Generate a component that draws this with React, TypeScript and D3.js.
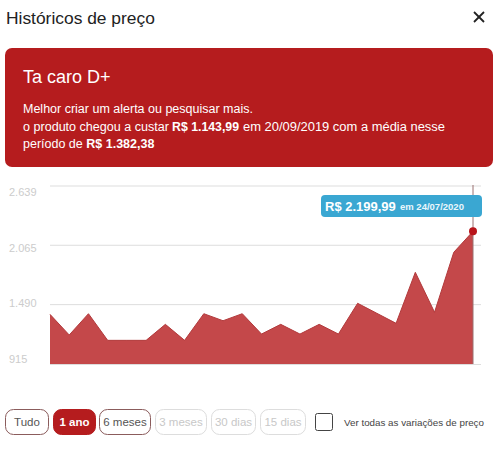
import React from "react";
import * as d3 from "d3";

const prices = [1396, 1196, 1402, 1143.99, 1143.99, 1143.99, 1299, 1143.99, 1402, 1334, 1402, 1205, 1299, 1205, 1299, 1205, 1503, 1406, 1309, 1803, 1416, 1997, 2199.99];
const yTicks = [915, 1490, 2065, 2639];
const yTickLabels = ["915", "1.490", "2.065", "2.639"];
const buttons = ["Tudo", "1 ano", "6 meses", "3 meses", "30 dias", "15 dias"];
const buttonState = ["on", "active", "on", "off", "off", "off"];
const buttonX = [5, 53, 99, 155, 211, 260];
const buttonW = [43, 42, 51, 51, 44, 45];

const FONT = "'Liberation Sans', Arial, sans-serif";

export default function App() {
  const W = 500, H = 453;
  const x = d3.scaleLinear().domain([0, prices.length - 1]).range([50, 473]);
  const y = d3.scaleLinear().domain([915, 2639]).range([364, 186]);
  const yLab = d3.scaleLinear().domain([915, 2639]).range([363, 196]);
  const area = d3.area<number>().x((_, i) => x(i)).y0(y(915)).y1(d => y(d)).curve(d3.curveLinear);
  const line = d3.line<number>().x((_, i) => x(i)).y(d => y(d));
  const last = prices.length - 1;
  return (
    <svg width={W} height={H} style={{ position: "absolute", left: 0, top: 0, fontFamily: FONT }}>
      <rect width={W} height={H} fill="#fff" />
      <text x={6} y={24} fontSize={17.4} fill="#222">Históricos de preço</text>
      <g stroke="#222" strokeWidth={1.8}>
        <line x1={474} y1={12} x2={484} y2={22} />
        <line x1={484} y1={12} x2={474} y2={22} />
      </g>
      <rect x={5} y={48} width={488} height={119} rx={7} fill="#b51c1e" />
      <text x={23} y={83} fontSize={18} fill="#fff">Ta caro D+</text>
      <text x={23} y={113} fontSize={12.5} fill="#fff">Melhor criar um alerta ou pesquisar mais.</text>
      <text x={23} y={131} fontSize={12.5} fill="#fff" textLength={146} lengthAdjust="spacingAndGlyphs">o produto chegou a custar</text>
      <text x={172} y={131} fontSize={12.5} fontWeight="bold" fill="#fff" textLength={67} lengthAdjust="spacingAndGlyphs">R$ 1.143,99</text>
      <text x={243} y={131} fontSize={12.5} fill="#fff" textLength={202} lengthAdjust="spacingAndGlyphs">em 20/09/2019 com a média nesse</text>
      <text x={23} y={148} fontSize={12.5} fill="#fff">período de <tspan fontWeight="bold">R$ 1.382,38</tspan></text>

      {yTicks.map((t, i) => (
        <g key={t}>
          {i > 0 && <line x1={50} x2={481} y1={y(t)} y2={y(t)} stroke="#ddd" strokeWidth={1} />}
          <text x={9} y={yLab(t)} fontSize={11} fill="#cccccc">{yTickLabels[i]}</text>
        </g>
      ))}
      <line x1={50} x2={481} y1={y(915) + 0.5} y2={y(915) + 0.5} stroke="#ddd" />
      <path d={area(prices) || ""} fill="#c4484a" />
      <path d={line(prices) || ""} fill="none" stroke="#b23a3c" strokeWidth={1} />
      <line x1={x(last)} x2={x(last)} y1={185} y2={y(915)} stroke="#9a7070" strokeWidth={1} />
      <circle cx={x(last)} cy={y(prices[last])} r={4} fill="#b8141a" />
      <rect x={321} y={195} width={161} height={22} rx={4} fill="#3aa7d2" />
      <text x={325} y={211} fontSize={13} fontWeight="bold" fill="#fff">R$ 2.199,99</text>
      <text x={400} y={210} fontSize={9.5} fontWeight="bold" fill="#eaf6fb">em 24/07/2020</text>

      {buttons.map((b, i) => {
        const st = buttonState[i];
        const fill = st === "active" ? "#b51c1e" : "#fff";
        const stroke = st === "active" ? "#b51c1e" : st === "on" ? "#8b5c5c" : "#ddd";
        const tc = st === "active" ? "#fff" : st === "on" ? "#555" : "#c8c8c8";
        return (
          <g key={b}>
            <rect x={buttonX[i] + 0.5} y={409.5} width={buttonW[i]} height={25} rx={8} fill={fill} stroke={stroke} strokeWidth={1} />
            <text x={buttonX[i] + 0.5 + buttonW[i] / 2} y={426} textAnchor="middle" fontSize={11.5} fontWeight={st === "active" ? "bold" : "normal"} fill={tc}>{b}</text>
          </g>
        );
      })}
      <rect x={315.5} y={413.5} width={17} height={17} rx={2} fill="#fff" stroke="#444" strokeWidth={1} />
      <text x={344} y={425.5} fontSize={9.8} fill="#444">Ver todas as variações de preço</text>
    </svg>
  );
}
